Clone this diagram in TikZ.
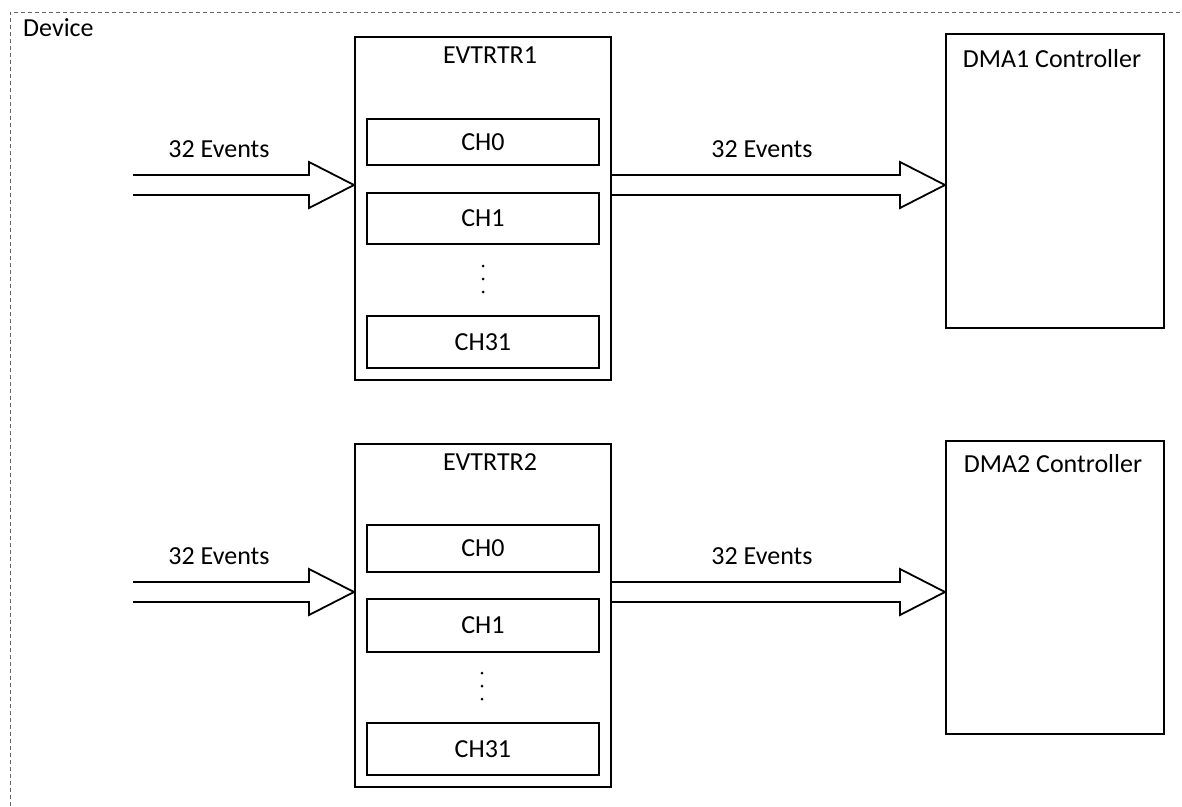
\documentclass[tikz,border=0pt]{standalone}
\usepackage{fontspec}
\setmainfont{Carlito}
\usetikzlibrary{calc}
\tikzset{
  outerbox/.style={draw, line width=1.8pt, inner sep=0pt, anchor=north west},
  chbox/.style={draw, line width=1.8pt, anchor=north west, minimum width=232pt, inner sep=0pt, text height=16.5pt, text depth=0pt},
  lbl/.style={inner sep=0pt, anchor=base},
  arrowline/.style={draw, line width=1.8pt, line join=miter},
  border/.style={draw=black!60, line width=1pt, dash pattern=on 4pt off 3pt},
  dot/.style={circle, fill=black, inner sep=0pt, minimum size=3pt}
}
\newcommand\blkarrow[2]{%
  \draw[arrowline] ($#1+(0,-10)$) -- ($#2+(-45,-10)$) -- ++(0,-13) -- #2 -- ++(-45,23) -- ++(0,-13) -- ($#1+(0,10)$);}
\begin{document}
\begin{tikzpicture}[x=1pt, y=-1pt, font=\fontsize{26}{31}\selectfont]
\useasboundingbox (0,0) rectangle (1182,806);
\draw[border] (10,806) -- (10,12) -- (1182,12);
\node[lbl, anchor=base west] (dev) at (23,36) {Device};

% group 1
\node[outerbox, minimum width=256pt, minimum height=343pt] (e1) at (354,36) {};
\node[lbl] (e1t) at (490,63) {EVTRTR1};
\node[chbox, minimum height=46pt] (c10) at (366,118) {CH0};
\node[chbox, minimum height=51pt] (c11) at (366,192) {CH1};
\node[chbox, minimum height=52pt] (c131) at (366,315) {CH31};
\node[dot] (d1a) at (483,266) {};
\node[dot] (d1b) at (483,279) {};
\node[dot] (d1c) at (483,292) {};
\node[outerbox, minimum width=218pt, minimum height=294pt] (m1) at (945,33) {};
\node[lbl] (m1t) at (1052,67) {DMA1 Controller};
\coordinate (s1) at (133,185);
\blkarrow{(s1)}{(e1.west|-s1)}
\blkarrow{(e1.east|-s1)}{(m1.west|-s1)}
\node[lbl] (i1) at (219,157) {32 Events};
\node[lbl] (o1) at (762,157) {32 Events};

% group 2
\node[outerbox, minimum width=256pt, minimum height=343pt] (e2) at (354,443) {};
\node[lbl] (e2t) at (490,470) {EVTRTR2};
\node[chbox, minimum height=47pt] (c20) at (366,524) {CH0};
\node[chbox, minimum height=53pt] (c21) at (366,598) {CH1};
\node[chbox, minimum height=52pt] (c231) at (366,722) {CH31};
\node[dot] (d2a) at (482,673) {};
\node[dot] (d2b) at (482,686) {};
\node[dot] (d2c) at (482,699) {};
\node[outerbox, minimum width=218pt, minimum height=293pt] (m2) at (945,440) {};
\node[lbl] (m2t) at (1053,472) {DMA2 Controller};
\coordinate (s2) at (133,592);
\blkarrow{(s2)}{(e2.west|-s2)}
\blkarrow{(e2.east|-s2)}{(m2.west|-s2)}
\node[lbl] (i2) at (219,564) {32 Events};
\node[lbl] (o2) at (762,564) {32 Events};
\end{tikzpicture}
\end{document}
